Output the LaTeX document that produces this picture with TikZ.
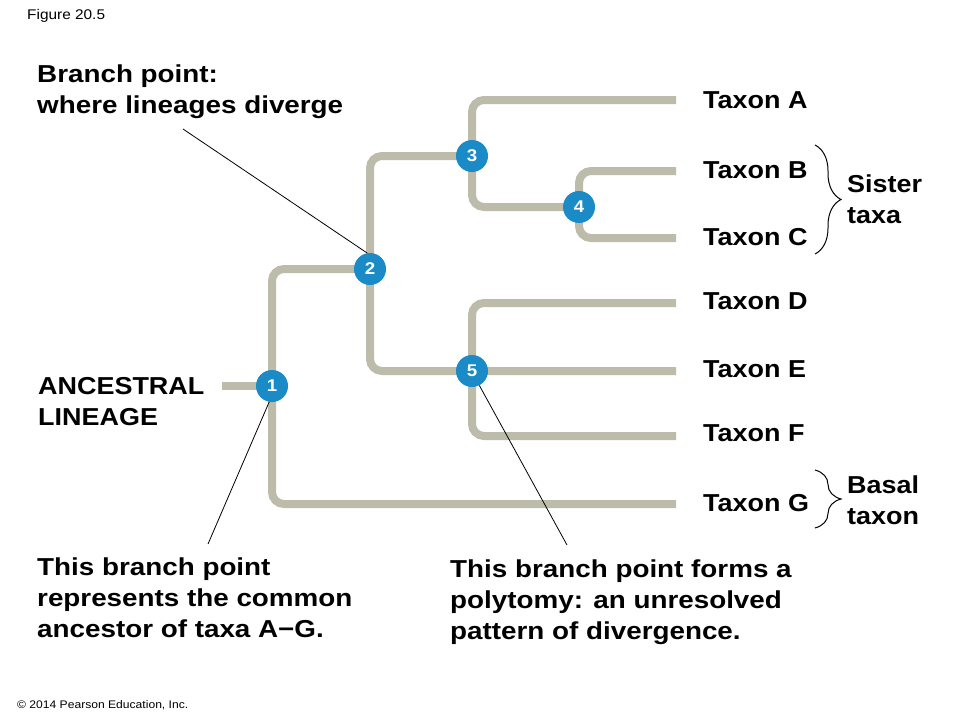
\documentclass[tikz,border=0pt]{standalone}
\usepackage{fontspec}
\setmainfont{Liberation Sans}[FakeStretch=1.1]
\newfontfamily\widefont{Liberation Sans}[FakeStretch=1.135]
\usetikzlibrary{decorations.pathreplacing}
\definecolor{branchgray}{RGB}{189,187,170}
\definecolor{bpblue}{RGB}{26,139,198}
\tikzset{
  branch/.style={draw=branchgray, line width=8pt, rounded corners=12pt},
  bpt/.style={circle, fill=bpblue, minimum size=32pt, inner sep=0pt, text=white,
    font=\fontsize{17}{17}\selectfont\bfseries},
  lbl/.style={font=\fontsize{24.5}{31}\selectfont\bfseries, inner sep=0pt, align=left},
  widelbl/.style={lbl, font=\widefont\fontsize{24.5}{31}\selectfont\bfseries},
  taxon/.style={lbl, anchor=west},
  small/.style={font=\fontsize{14}{16}\selectfont, inner sep=0pt, anchor=base west},
  leader/.style={draw=black, line width=0.8pt},
  bracestyle/.style={draw=black, line width=1pt, decorate, decoration={brace, amplitude=26pt}}
}
\begin{document}
\begin{tikzpicture}[x=1pt,y=-1pt]
\useasboundingbox (0,0) rectangle (960,720);
% branch point positions and tips
\coordinate (c1) at (272,386);
\coordinate (c2) at (370,269);
\coordinate (c3) at (472,156);
\coordinate (c4) at (579,207);
\coordinate (c5) at (472,371);
\coordinate (anc) at (222,386);
\coordinate (tA) at (676,100);
\coordinate (tB) at (676,171);
\coordinate (tC) at (676,238);
\coordinate (tD) at (676,303);
\coordinate (tE) at (676,371);
\coordinate (tF) at (676,436);
\coordinate (tG) at (676,504);
% branches
\draw[branch] (anc) -- (c1);
\draw[branch] (c2) -| (c1) |- (tG);
\draw[branch] (c3) -| (c2) |- (c5) -- (tE);
\draw[branch] (tA) -| (c3) |- (c4);
\draw[branch] (tB) -| (c4) |- (tC);
\draw[branch] (tD) -| (c5) |- (tF);
% branch point markers
\node[bpt] (n1) at (c1) {1};
\node[bpt] (n2) at (c2) {2};
\node[bpt] (n3) at (c3) {3};
\node[bpt] (n4) at (c4) {4};
\node[bpt] (n5) at (c5) {5};
% taxa
\node[taxon] (A) at (703,100) {Taxon A};
\node[taxon] (B) at (703,170) {Taxon B};
\node[taxon] (C) at (703,237) {Taxon C};
\node[taxon] (D) at (703,301) {Taxon D};
\node[taxon] (E) at (703,369) {Taxon E};
\node[taxon] (F) at (703,433) {Taxon F};
\node[taxon] (G) at (703,503) {Taxon G};
% braces
\coordinate (sb1) at (815,145);
\coordinate (sb2) at (815,254);
\coordinate (bb1) at (815,470);
\coordinate (bb2) at (815,528);
\draw[bracestyle] (sb1) -- (sb2);
\draw[bracestyle] (bb1) -- (bb2);
% multi-line labels: base anchor = baseline of the last line
\node[lbl, anchor=base west] (sister) at (847,223) {Sister\\taxa};
\node[lbl, anchor=base west] (basal) at (847,524) {Basal\\taxon};
\node[widelbl, anchor=base west] (bplab) at (37,113) {Branch point:\\where lineages diverge};
\node[lbl, anchor=base west] (anclab) at (38,425) {ANCESTRAL\\LINEAGE};
\node[widelbl, anchor=base west] (comlab) at (37,637) {This branch point\\represents the common\\ancestor of taxa A\textminus G.};
\node[widelbl, anchor=base west] (polylab) at (450,639) {This branch point forms a\\polytomy: an unresolved\\pattern of divergence.};
% leaders
\coordinate (bpend) at (183,129);
\coordinate (comend) at (208,544);
\coordinate (polyend) at (567,545);
\draw[leader] (bpend) -- (n2.100);
\draw[leader] (n1.260) -- (comend);
\draw[leader] (n5.297) -- (polyend);
% small texts
\node[small] (fig) at (27,19) {Figure 20.5};
\node[small, font=\fontsize{11}{14}\selectfont] (copy) at (17,708) {© 2014 Pearson Education, Inc.};
\end{tikzpicture}
\end{document}
